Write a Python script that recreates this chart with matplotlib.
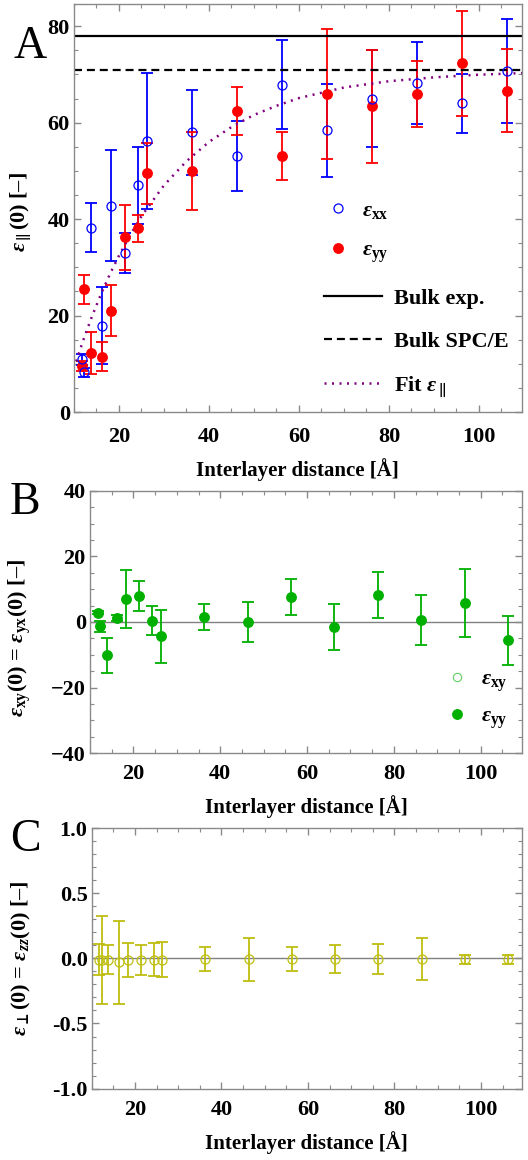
import matplotlib
matplotlib.use("Agg")
import matplotlib.pyplot as plt
from matplotlib.ticker import MultipleLocator, FormatStrFormatter

plt.rcParams["font.family"] = ["Liberation Serif", "DejaVu Serif"]
plt.rcParams["font.weight"] = "bold"
plt.rcParams["mathtext.fontset"] = "custom"
plt.rcParams["mathtext.rm"] = "Liberation Serif:bold"
plt.rcParams["mathtext.it"] = "Liberation Serif:italic:bold"
plt.rcParams["mathtext.bf"] = "Liberation Serif:bold"
plt.rcParams["mathtext.fallback"] = "stix"
plt.rcParams["axes.unicode_minus"] = True

# interlayer distances (Å)
dist = [11.8, 12.3, 13.8, 16.3, 18.3, 21.3, 24.3, 26.3,
        36.3, 46.3, 56.3, 66.3, 76.3, 86.3, 96.3, 106.3]

# in-plane components
eps_xx = [10.9, 8.2, 38.2, 17.9, 42.8, 33.0, 47.0, 56.2,
          58.0, 53.1, 67.9, 58.4, 65.0, 68.2, 64.0, 70.7]
eps_xx_err = [1.2, 0.9, 5.1, 8.0, 11.5, 4.2, 8.0, 14.2,
              8.8, 7.2, 9.2, 9.7, 10.0, 8.5, 6.1, 10.7]
eps_yy = [9.6, 25.5, 12.2, 11.5, 21.0, 36.2, 38.1, 49.5,
          50.0, 62.4, 53.1, 66.0, 63.4, 65.9, 72.3, 66.6]
eps_yy_err = [1.0, 3.0, 4.4, 3.0, 5.3, 6.7, 2.8, 6.3,
              8.1, 4.9, 5.0, 13.5, 11.7, 6.8, 10.9, 8.6]

# bulk references
bulk_exp = 78.0
bulk_spce = 71.0

# fitted eps_parallel curve
fit_x = [10.5, 12, 14, 16, 18, 20, 22.5, 25, 30, 35, 40, 45, 50, 55,
         60, 70, 80, 90, 100, 110]
fit_y = [10.5, 14.7, 19.8, 24.4, 28.6, 32.4, 36.7, 40.6, 47.0, 52.0,
         56.0, 59.1, 61.6, 63.5, 65.1, 67.3, 68.6, 69.4, 69.95, 70.3]

# off-diagonal component
eps_xy = [2.8, -1.3, -10.2, 1.2, 7.0, 8.0, 0.4, -4.4,
          1.6, 0.0, 7.5, -1.5, 8.1, 0.6, 5.8, -5.6]
eps_xy_err = [0.5, 1.6, 5.2, 0.8, 8.7, 4.6, 4.5, 8.1,
              3.9, 6.0, 5.5, 7.0, 7.0, 7.7, 10.3, 7.5]

# perpendicular component
eps_zz = [-0.01, -0.01, -0.01, -0.03, -0.01, -0.01, -0.01, -0.01,
          -0.005, -0.005, -0.005, -0.005, -0.005, -0.005, -0.005, -0.005]
eps_zz_err = [0.12, 0.34, 0.11, 0.32, 0.13, 0.115, 0.125, 0.135,
              0.09, 0.165, 0.09, 0.11, 0.115, 0.16, 0.035, 0.035]

BLUE = "#0000ff"
RED = "#ff0000"
GREEN = "#00b000"
OLIVE = "#bebe10"
FRAME = "#8a8a8a"
FS = 16


def style_axes(ax, xlim, ylim, ymajor, yminor, xpad):
    ax.set_xlim(*xlim)
    ax.set_ylim(*ylim)
    ax.xaxis.set_major_locator(MultipleLocator(20))
    ax.xaxis.set_minor_locator(MultipleLocator(5))
    ax.yaxis.set_major_locator(MultipleLocator(ymajor))
    ax.yaxis.set_minor_locator(MultipleLocator(yminor))
    ax.tick_params(which="both", direction="in", top=True, right=True,
                   color=FRAME, labelsize=FS)
    ax.tick_params(axis="x", pad=xpad)
    ax.tick_params(axis="y", pad=3)
    ax.tick_params(which="major", length=5, width=1)
    ax.tick_params(which="minor", length=3, width=0.8)
    for lab in ax.get_xticklabels() + ax.get_yticklabels():
        lab.set_fontweight("bold")
    for sp in ax.spines.values():
        sp.set_color(FRAME)
        sp.set_linewidth(1.0)
    ax.set_xlabel("Interlayer distance [Å]", fontsize=15, fontweight="bold",
                  labelpad=8)


def errbars(ax, y, yerr, color, lw=1.3):
    ax.errorbar(dist, y, yerr=yerr, fmt="none", ecolor=color,
                elinewidth=lw, capsize=4, capthick=lw)


def panel_letter(ax, x, y, letter):
    ax.text(x, y, letter, transform=ax.transAxes, fontsize=33,
            fontweight="normal", ha="left", va="center")


fig = plt.figure(figsize=(5.28, 11.6), dpi=100)

# ---- panel A ----
axA = fig.add_axes([0.140, 0.6448, 0.848, 0.3517])
errbars(axA, eps_xx, eps_xx_err, BLUE)
errbars(axA, eps_yy, eps_yy_err, RED)
hxx, = axA.plot(dist, eps_xx, "o", mfc="none", mec=BLUE, mew=0.9, ms=6.5,
                label=r"$\varepsilon_{\mathrm{xx}}$", zorder=4)
hyy, = axA.plot(dist, eps_yy, "o", color=RED, ms=6.8,
                label=r"$\varepsilon_{\mathrm{yy}}$", zorder=3)
hexp = axA.axhline(bulk_exp, color="black", lw=1.6, label="Bulk exp.")
hspc = axA.axhline(bulk_spce, color="black", lw=1.6, ls=(0, (3.6, 2.2)),
                   label="Bulk SPC/E")
hfit, = axA.plot(fit_x, fit_y, color="#800080", lw=1.8, ls=(0, (0.8, 2.2)),
                 label=r"Fit $\varepsilon_{\parallel}$")
style_axes(axA, (10, 109.5), (0, 84.6), 20, 5, xpad=11)
axA.set_ylabel(r"$\varepsilon_{\parallel}$(0) [–]", fontsize=16,
               fontweight="bold")
axA.yaxis.set_label_coords(-0.092, 0.49)

leg1 = axA.legend(handles=[hxx, hyy], loc="center left",
                  bbox_to_anchor=(0.565, 0.44), frameon=False, fontsize=FS,
                  handlelength=1.0, handletextpad=0.6, labelspacing=0.85,
                  borderpad=0, borderaxespad=0)
axA.add_artist(leg1)
axA.legend(handles=[hexp, hspc, hfit], loc="center left",
           bbox_to_anchor=(0.558, 0.168), frameon=False, fontsize=FS,
           handlelength=2.6, handletextpad=0.55, labelspacing=1.0,
           borderpad=0, borderaxespad=0)
panel_letter(axA, -0.134, 0.895, "A")

# ---- panel B ----
axB = fig.add_axes([0.1705, 0.3506, 0.818, 0.2264])
axB.axhline(0, color="#808080", lw=1.0, zorder=1)
errbars(axB, eps_xy, eps_xy_err, GREEN)
hxy, = axB.plot(dist, eps_xy, "o", mfc="none", mec="#60d060", mew=0.8,
                ms=6, label=r"$\varepsilon_{\mathrm{xy}}$", zorder=3)
hyy2, = axB.plot(dist, eps_xy, "o", color=GREEN, ms=6.8,
                 label=r"$\varepsilon_{\mathrm{yy}}$", zorder=4)
style_axes(axB, (10, 109.5), (-40, 40), 20, 5, xpad=8)
axB.set_ylabel(r"$\varepsilon_{\mathrm{xy}}$(0) = $\varepsilon_{\mathrm{yx}}$(0) [–]",
               fontsize=16, fontweight="bold")
axB.yaxis.set_label_coords(-0.132, 0.44)
axB.legend(handles=[hxy, hyy2], loc="center left",
           bbox_to_anchor=(0.824, 0.203), frameon=False, fontsize=FS,
           handlelength=1.0, handletextpad=0.6, labelspacing=0.55,
           borderpad=0, borderaxespad=0)
panel_letter(axB, -0.185, 0.953, "B")

# ---- panel C ----
axC = fig.add_axes([0.1737, 0.0616, 0.815, 0.2243])
axC.axhline(0, color="#808080", lw=1.0, zorder=1)
errbars(axC, eps_zz, eps_zz_err, OLIVE)
axC.plot(dist, eps_zz, "o", mfc="none", mec=OLIVE, mew=0.9, ms=6.5, zorder=3)
style_axes(axC, (10, 109.5), (-1, 1), 0.5, 0.1, xpad=8)
axC.yaxis.set_major_formatter(FormatStrFormatter("%.1f"))
axC.set_ylabel(r"$\varepsilon_{\bot}$(0) = $\varepsilon_{zz}$(0) [–]",
               fontsize=16, fontweight="bold")
axC.yaxis.set_label_coords(-0.1365, 0.5)
panel_letter(axC, -0.19, 0.955, "C")

fig.savefig("out.png", dpi=100)
